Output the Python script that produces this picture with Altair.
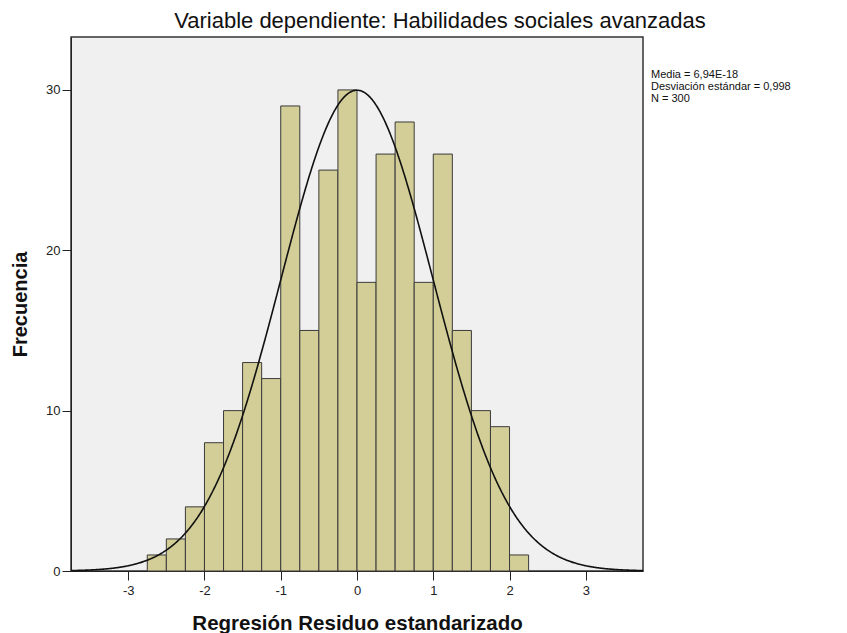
import altair as alt
import pandas as pd

# Histogram data
bin_lo = [-2.75, -2.5, -2.25, -2.0, -1.75, -1.5, -1.25, -1.0, -0.75, -0.5,
          -0.25, 0.0, 0.25, 0.5, 0.75, 1.0, 1.25, 1.5, 1.75, 2.0]
bin_hi = [-2.5, -2.25, -2.0, -1.75, -1.5, -1.25, -1.0, -0.75, -0.5, -0.25,
          0.0, 0.25, 0.5, 0.75, 1.0, 1.25, 1.5, 1.75, 2.0, 2.25]
counts = [1, 2, 4, 8, 10, 13, 12, 29, 15, 25, 30, 18, 26, 28, 18, 26, 15, 10, 9, 1]

x_ticks = [-3, -2, -1, 0, 1, 2, 3]
y_ticks = [0, 10, 20, 30]

mean_val = 6.94e-18
sd_val = 0.998
n_val = 300
bin_width = 0.25

title_text = "Variable dependiente: Habilidades sociales avanzadas"
stats_lines = ["Media = 6,94E-18", "Desviación estándar = 0,998", "N = 300"]

FONT = "Liberation Sans"

df = pd.DataFrame({"lo": bin_lo, "hi": bin_hi, "count": counts})

xscale = alt.Scale(domain=[-3.75, 3.75], nice=False, zero=False, padding=0)
yscale = alt.Scale(domain=[0, 33.3], nice=False, padding=0)

xaxis = alt.Axis(values=x_ticks, title="Regresión Residuo estandarizado",
                 labelExpr="datum.value + ''", grid=False,
                 tickSize=9, labelPadding=4, labelFontSize=13, labelFont=FONT,
                 labelColor="#222", tickColor="#222", domainColor="#222",
                 titleFont=FONT, titleFontSize=20.5, titleFontWeight="bold",
                 titleColor="#111", titleX=286, titleY=58,
                 titleBaseline="alphabetic", titleAlign="center")
yaxis = alt.Axis(values=y_ticks, title="Frecuencia", grid=False,
                 tickSize=9, labelPadding=2, labelFontSize=13, labelFont=FONT,
                 labelColor="#222", tickColor="#222", domainColor="#222",
                 titleFont=FONT, titleFontSize=20, titleFontWeight="bold",
                 titleColor="#111", titleX=-45, titleY=267, titleAngle=270,
                 titleBaseline="alphabetic", titleAlign="center")

bars = alt.Chart(df).mark_rect(fill="#D3CE97", stroke="#3a3a3a", strokeWidth=1).encode(
    x=alt.X("lo:Q", scale=xscale, axis=xaxis),
    x2="hi:Q",
    y=alt.Y("count:Q", scale=yscale, axis=yaxis),
    y2=alt.datum(0),
)

curve_expr = (f"{n_val}*{bin_width}/({sd_val}*sqrt(2*PI))"
              f"*exp(-0.5*pow((datum.z-{mean_val})/{sd_val},2))")
curve = alt.Chart(alt.sequence(-3.75, 3.7501, 0.01, as_="z")).transform_calculate(
    f=curve_expr
).mark_line(color="#111", strokeWidth=1.6).encode(
    x=alt.X("z:Q", scale=xscale),
    y=alt.Y("f:Q", scale=yscale),
)

stats_df = pd.DataFrame({"t": ["\n".join(stats_lines)]})
stats = alt.Chart(stats_df).mark_text(
    align="left", baseline="alphabetic", font=FONT, fontSize=11,
    lineHeight=12, lineBreak="\n", color="#111"
).encode(
    x=alt.value(580), y=alt.value(41), text="t:N"
)

title_df = pd.DataFrame({"t": [title_text]})
title = alt.Chart(title_df).mark_text(
    align="center", baseline="alphabetic", font=FONT, fontSize=22, color="#111"
).encode(
    x=alt.value(369), y=alt.value(-9), text="t:N"
)

chart = alt.layer(bars, curve, stats, title).properties(
    width=572, height=534,
    padding={"left": 63, "top": 29, "right": 190, "bottom": 62},
    autosize=alt.AutoSizeParams(type="none"),
).configure_view(fill="#F0F0F0", stroke="#333", strokeWidth=1.5)

chart.save("out.html", embed_options={"renderer": "svg", "actions": False})
